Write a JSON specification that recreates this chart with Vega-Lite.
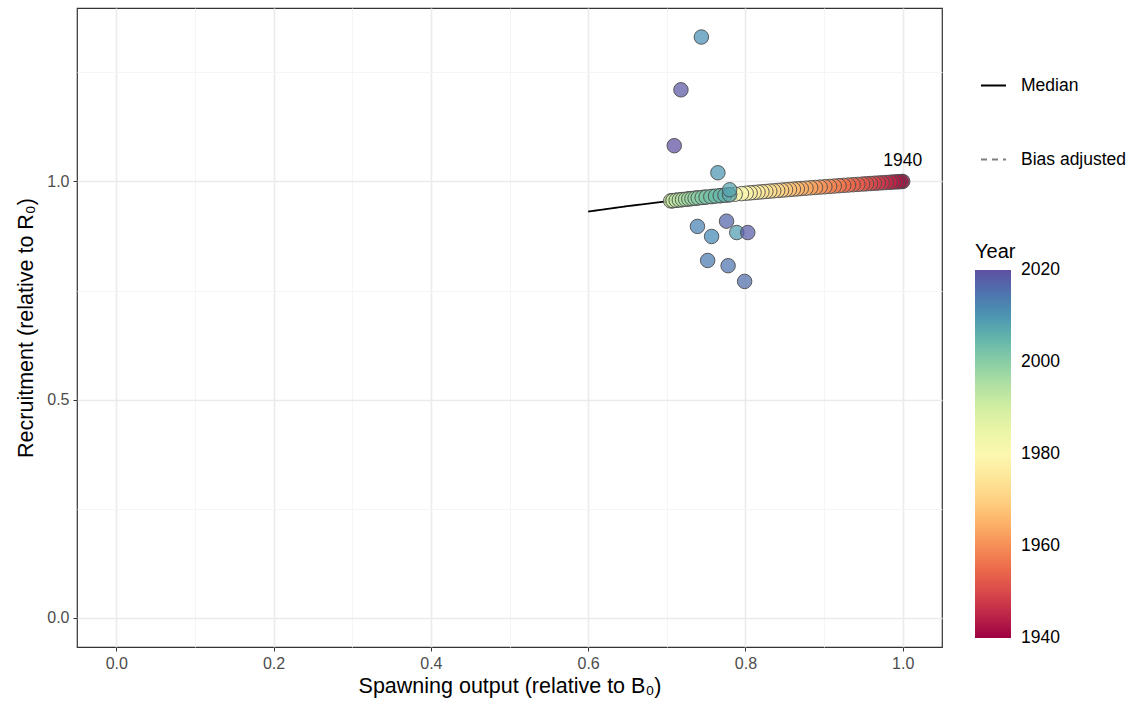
{
  "$schema": "https://vega.github.io/schema/vega-lite/v6.json",
  "width": 865,
  "height": 639,
  "autosize": {"type": "none"},
  "padding": {"left": 77, "top": 8, "right": 195, "bottom": 60},
  "config": {
    "view": {"stroke": "#333333", "strokeWidth": 1.2},
    "font": "Liberation Sans",
    "legend": {"padding": 0}
  },
  "datasets": {
    "pts": [
      {"year": 1940, "s": 1.000, "r": 1.0000},
      {"year": 1941, "s": 0.998, "r": 0.9998},
      {"year": 1942, "s": 0.995, "r": 0.9994},
      {"year": 1943, "s": 0.992, "r": 0.9991},
      {"year": 1944, "s": 0.988, "r": 0.9987},
      {"year": 1945, "s": 0.984, "r": 0.9982},
      {"year": 1946, "s": 0.979, "r": 0.9976},
      {"year": 1947, "s": 0.974, "r": 0.9970},
      {"year": 1948, "s": 0.969, "r": 0.9965},
      {"year": 1949, "s": 0.964, "r": 0.9959},
      {"year": 1950, "s": 0.959, "r": 0.9953},
      {"year": 1951, "s": 0.954, "r": 0.9947},
      {"year": 1952, "s": 0.949, "r": 0.9941},
      {"year": 1953, "s": 0.943, "r": 0.9933},
      {"year": 1954, "s": 0.937, "r": 0.9926},
      {"year": 1955, "s": 0.931, "r": 0.9918},
      {"year": 1956, "s": 0.925, "r": 0.9911},
      {"year": 1957, "s": 0.919, "r": 0.9903},
      {"year": 1958, "s": 0.913, "r": 0.9895},
      {"year": 1959, "s": 0.907, "r": 0.9887},
      {"year": 1960, "s": 0.901, "r": 0.9879},
      {"year": 1961, "s": 0.895, "r": 0.9871},
      {"year": 1962, "s": 0.889, "r": 0.9863},
      {"year": 1963, "s": 0.883, "r": 0.9855},
      {"year": 1964, "s": 0.877, "r": 0.9846},
      {"year": 1965, "s": 0.871, "r": 0.9838},
      {"year": 1966, "s": 0.866, "r": 0.9831},
      {"year": 1967, "s": 0.861, "r": 0.9824},
      {"year": 1968, "s": 0.856, "r": 0.9816},
      {"year": 1969, "s": 0.851, "r": 0.9809},
      {"year": 1970, "s": 0.846, "r": 0.9801},
      {"year": 1971, "s": 0.841, "r": 0.9794},
      {"year": 1972, "s": 0.836, "r": 0.9786},
      {"year": 1973, "s": 0.831, "r": 0.9779},
      {"year": 1974, "s": 0.826, "r": 0.9771},
      {"year": 1975, "s": 0.821, "r": 0.9763},
      {"year": 1976, "s": 0.816, "r": 0.9755},
      {"year": 1977, "s": 0.811, "r": 0.9747},
      {"year": 1978, "s": 0.806, "r": 0.9739},
      {"year": 1979, "s": 0.801, "r": 0.9731},
      {"year": 1980, "s": 0.795, "r": 0.9721},
      {"year": 1981, "s": 0.787, "r": 0.9708},
      {"year": 1982, "s": 0.778, "r": 0.9692},
      {"year": 1983, "s": 0.768, "r": 0.9675},
      {"year": 1984, "s": 0.758, "r": 0.9657},
      {"year": 1985, "s": 0.748, "r": 0.9639},
      {"year": 1986, "s": 0.738, "r": 0.9620},
      {"year": 1987, "s": 0.728, "r": 0.9601},
      {"year": 1988, "s": 0.719, "r": 0.9583},
      {"year": 1989, "s": 0.712, "r": 0.9569},
      {"year": 1990, "s": 0.707, "r": 0.9559},
      {"year": 1991, "s": 0.705, "r": 0.9555},
      {"year": 1992, "s": 0.708, "r": 0.9561},
      {"year": 1993, "s": 0.712, "r": 0.9569},
      {"year": 1994, "s": 0.716, "r": 0.9577},
      {"year": 1995, "s": 0.720, "r": 0.9585},
      {"year": 1996, "s": 0.724, "r": 0.9593},
      {"year": 1997, "s": 0.728, "r": 0.9601},
      {"year": 1998, "s": 0.732, "r": 0.9609},
      {"year": 1999, "s": 0.736, "r": 0.9616},
      {"year": 2000, "s": 0.740, "r": 0.9624},
      {"year": 2001, "s": 0.745, "r": 0.9633},
      {"year": 2002, "s": 0.750, "r": 0.9642},
      {"year": 2003, "s": 0.756, "r": 0.9653},
      {"year": 2004, "s": 0.762, "r": 0.9664},
      {"year": 2005, "s": 0.768, "r": 0.9675},
      {"year": 2006, "s": 0.774, "r": 0.9685},
      {"year": 2007, "s": 0.780, "r": 0.9696},
      {"year": 2008, "s": 0.780, "r": 0.981},
      {"year": 2009, "s": 0.789, "r": 0.883},
      {"year": 2010, "s": 0.765, "r": 1.020},
      {"year": 2011, "s": 0.744, "r": 1.331},
      {"year": 2012, "s": 0.757, "r": 0.874},
      {"year": 2013, "s": 0.739, "r": 0.897},
      {"year": 2014, "s": 0.752, "r": 0.819},
      {"year": 2015, "s": 0.778, "r": 0.807},
      {"year": 2016, "s": 0.799, "r": 0.771},
      {"year": 2017, "s": 0.776, "r": 0.909},
      {"year": 2018, "s": 0.803, "r": 0.883},
      {"year": 2019, "s": 0.718, "r": 1.210},
      {"year": 2020, "s": 0.7095, "r": 1.082}
    ],
    "curves": [
      {"type": "Median", "s": 0.60, "r": 0.9310},
      {"type": "Median", "s": 0.65, "r": 0.9435},
      {"type": "Median", "s": 0.70, "r": 0.9545},
      {"type": "Median", "s": 0.75, "r": 0.9642},
      {"type": "Median", "s": 0.80, "r": 0.9729},
      {"type": "Median", "s": 0.85, "r": 0.9808},
      {"type": "Median", "s": 0.90, "r": 0.9878},
      {"type": "Median", "s": 0.95, "r": 0.9942},
      {"type": "Median", "s": 1.00, "r": 1.0000},
      {"type": "Bias adjusted", "s": 0.70, "r": 0.9450},
      {"type": "Bias adjusted", "s": 0.75, "r": 0.9546},
      {"type": "Bias adjusted", "s": 0.80, "r": 0.9632},
      {"type": "Bias adjusted", "s": 0.85, "r": 0.9710},
      {"type": "Bias adjusted", "s": 0.90, "r": 0.9780},
      {"type": "Bias adjusted", "s": 0.95, "r": 0.9840},
      {"type": "Bias adjusted", "s": 1.00, "r": 0.9900}
    ],
    "labels": [
      {"s": 1.0, "r": 1.0, "txt": "1940"}
    ]
  },
  "encoding": {
    "x": {
      "field": "s",
      "type": "quantitative",
      "scale": {"domain": [-0.05, 1.05], "nice": false, "zero": false},
      "axis": {
        "title": "Spawning output (relative to B₀)",
        "values": [0, 0.1, 0.2, 0.3, 0.4, 0.5, 0.6, 0.7, 0.8, 0.9, 1.0],
        "labelExpr": "round(datum.value*10) % 2 == 0 ? format(datum.value, '.1f') : ''",
        "domain": false,
        "gridColor": {"condition": {"test": "round(datum.value*10) % 2 == 0", "value": "#EBEBEB"}, "value": "#F4F4F4"},
        "gridWidth": {"condition": {"test": "round(datum.value*10) % 2 == 0", "value": 1.6}, "value": 0.9},
        "tickOpacity": {"condition": {"test": "round(datum.value*10) % 2 == 0", "value": 1}, "value": 0},
        "tickColor": "#333333",
        "tickSize": 4,
        "labelColor": "#4D4D4D",
        "labelFontSize": 16,
        "labelPadding": 4,
        "titleFontSize": 21.5,
        "titleFontWeight": "normal",
        "titleColor": "#000000",
        "titlePadding": 4
      }
    },
    "y": {
      "field": "r",
      "type": "quantitative",
      "scale": {"domain": [-0.0667, 1.3975], "nice": false, "zero": false},
      "axis": {
        "title": "Recruitment (relative to R₀)",
        "values": [0, 0.25, 0.5, 0.75, 1.0, 1.25],
        "labelExpr": "round(datum.value*4) % 2 == 0 ? format(datum.value, '.1f') : ''",
        "domain": false,
        "gridColor": {"condition": {"test": "round(datum.value*4) % 2 == 0", "value": "#EBEBEB"}, "value": "#F4F4F4"},
        "gridWidth": {"condition": {"test": "round(datum.value*4) % 2 == 0", "value": 1.6}, "value": 0.9},
        "tickOpacity": {"condition": {"test": "round(datum.value*4) % 2 == 0", "value": 1}, "value": 0},
        "tickColor": "#333333",
        "tickSize": 4,
        "labelColor": "#4D4D4D",
        "labelFontSize": 16,
        "labelPadding": 4,
        "titleFontSize": 21.5,
        "titleFontWeight": "normal",
        "titleColor": "#000000",
        "titlePadding": 9
      }
    }
  },
  "layer": [
    {
      "data": {"name": "curves"},
      "mark": {"type": "line", "strokeWidth": 1.8},
      "encoding": {
        "detail": {"field": "type"},
        "stroke": {
          "field": "type",
          "type": "nominal",
          "scale": {"domain": ["Median", "Bias adjusted"], "range": ["#000000", "#7F7F7F"]},
          "legend": {
            "title": null,
            "orient": "none",
            "legendX": 903,
            "legendY": 64,
            "symbolType": "stroke",
            "symbolSize": 625,
            "symbolStrokeWidth": 2,
            "labelFontSize": 17.5,
            "labelColor": "#000000",
            "labelOffset": 14,
            "rowPadding": 52
          }
        },
        "strokeDash": {
          "field": "type",
          "type": "nominal",
          "scale": {"domain": ["Median", "Bias adjusted"], "range": [[1, 0], [6, 5]]},
          "legend": {
            "title": null,
            "orient": "none",
            "legendX": 903,
            "legendY": 64,
            "symbolType": "stroke",
            "symbolSize": 625,
            "symbolStrokeWidth": 2,
            "labelFontSize": 17.5,
            "labelColor": "#000000",
            "labelOffset": 14,
            "rowPadding": 52
          }
        }
      }
    },
    {
      "data": {"name": "pts"},
      "mark": {"type": "point", "filled": true, "size": 210, "stroke": "#4D4D4D", "strokeWidth": 1, "fillOpacity": 0.72, "strokeOpacity": 0.9},
      "encoding": {
        "fill": {
          "field": "year",
          "type": "quantitative",
          "title": "Year",
          "scale": {"scheme": "spectral", "domain": [1940, 2020]},
          "legend": {
            "orient": "none",
            "direction": "vertical",
            "legendX": 898,
            "legendY": 234,
            "gradientLength": 368,
            "gradientThickness": 36,
            "gradientStrokeWidth": 0,
            "values": [1940, 1960, 1980, 2000, 2020],
            "format": "d",
            "labelFontSize": 17.5,
            "labelColor": "#000000",
            "labelOffset": 10,
            "titleFontSize": 20,
            "titleFontWeight": "normal",
            "titleColor": "#000000",
            "titlePadding": 8,
            "encode": {"labels": {"update": {"baseline": {"value": "middle"}}}}
          }
        }
      }
    },
    {
      "data": {"name": "labels"},
      "mark": {"type": "text", "dy": -20, "fontSize": 17.5, "color": "#000000"},
      "encoding": {"text": {"field": "txt"}}
    }
  ]
}
